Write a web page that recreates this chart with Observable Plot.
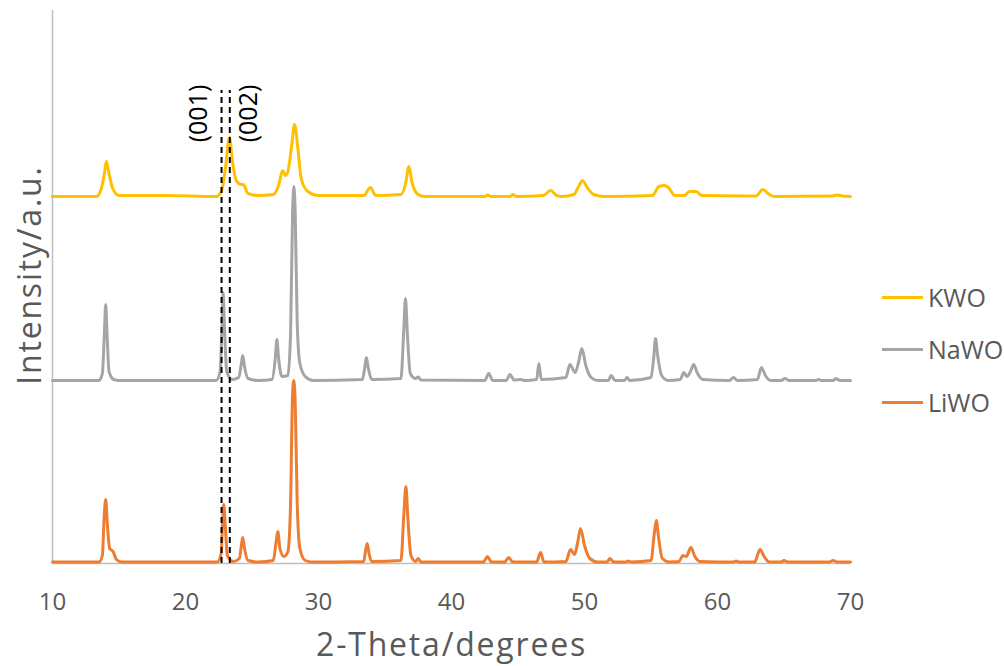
<!DOCTYPE html>
<html>
<head>
<meta charset="utf-8">
<script src="https://cdn.jsdelivr.net/npm/d3@7"></script>
<script src="https://cdn.jsdelivr.net/npm/@observablehq/plot@0.6"></script>
<style>
  html, body { margin: 0; padding: 0; background: #fff; }
  #wrap { position: relative; width: 1004px; height: 666px; overflow: hidden; font-family: "Open Sans", sans-serif; }
  .leg { position: absolute; left: 882px; display: flex; align-items: center; font-size: 25px; color: #595959; line-height: 1; }
  .leg .sw { width: 41px; height: 3px; margin-right: 5px; }
</style>
</head>
<body>
<div id="wrap"></div>
<script>
// 2-Theta (degrees) and displayed intensity (a.u., stacked with offsets as in the original)
const seriesNames = ["KWO", "NaWO", "LiWO"];
const seriesColors = ["#FFC000", "#A5A5A5", "#ED7D31"];

const KWO = [
  [10,367],[13.3,367],[13.65,374],[13.9,390],[14.05,402],[14.25,390],[14.5,376],[15,368],[18.5,368],
  [22.3,367],[22.7,372],[23.0,395],[23.3,426],[23.55,400],[23.85,382],[24.2,379],[24.35,379],[24.7,370],
  [25.5,368],[26.6,369],[27.0,378],[27.3,393],[27.5,388],[27.7,392],[28.0,420],[28.2,439],[28.45,415],
  [28.7,385],[29.2,372],[30,368],[33.4,368],[33.9,376],[34.3,368],[36.2,369],[36.55,380],[36.8,397],
  [37.05,380],[37.5,369],[38,367],[42.5,367],[42.7,368.5],[43,367],[44.4,367],[44.6,369],[44.9,367],
  [46.9,368],[47.45,373],[47.9,368],[48.3,367],[49.2,369],[49.6,378],[49.85,383],[50.2,376],[50.7,369],
  [51.5,367],[55.1,368],[55.6,377],[56.0,378],[56.3,376],[56.8,368],[57.5,368],[57.9,372],[58.4,372],
  [58.8,368],[62.9,367.5],[63.4,374],[63.9,369],[64.3,367],[68.6,367.5],[69,368.5],[69.4,367.5],[70,367]
];

const NaWO = [
  [10,183],[13.5,183],[13.75,190],[13.9,230],[14.0,259],[14.1,230],[14.25,192],[14.6,184],[15,183],
  [22.3,183],[22.6,192],[22.75,240],[22.83,271],[22.92,240],[23.1,192],[23.5,184],[24.0,186],[24.2,200],
  [24.3,208],[24.45,196],[24.7,185],[25.5,183],[26.5,184],[26.75,205],[26.87,224],[27.0,205],[27.25,187],
  [27.7,188],[27.9,230],[28.05,350],[28.15,377],[28.25,350],[28.4,240],[28.6,200],[29.0,187],[29.6,183],
  [33.3,184],[33.5,198],[33.6,206],[33.75,195],[34.0,184],[36.2,185],[36.4,230],[36.54,265],[36.68,230],
  [36.9,190],[37.3,185],[37.5,186.5],[37.7,183.5],[42.5,183],[42.8,190],[43.1,183],[44.1,183],[44.4,189],
  [44.7,183.5],[45.2,184],[45.5,183],[46.4,184],[46.57,200],[46.75,184],[48.6,186],[48.9,199],[49.3,191],
  [49.55,201],[49.8,215],[50.1,198],[50.5,186],[51,183],[51.8,183],[52.0,188],[52.3,183],[53.0,183],
  [53.2,186],[53.4,183],[55.0,186],[55.2,205],[55.34,225],[55.5,208],[55.8,188],[56.3,183],[57.2,184],
  [57.47,191],[57.7,187],[58.0,193],[58.2,199],[58.5,190],[58.9,184],[60.9,183],[61.2,186],[61.5,183],
  [63.0,184],[63.3,196],[63.6,188],[64.0,183],[64.8,183],[65.06,185],[65.4,183],[67.4,183],[67.6,184],
  [67.8,183],[68.7,183],[68.9,185],[69.2,183],[70,183]
];

const LiWO = [
  [10,1.5],[13.5,1.5],[13.75,8],[13.88,45],[14.0,64],[14.12,40],[14.3,15],[14.56,12],[14.8,4],[15.2,1.5],
  [22.4,1.5],[22.68,10],[22.8,45],[22.88,59],[22.98,40],[23.15,8],[23.6,2],[24.05,5],[24.2,18],[24.3,26],
  [24.45,14],[24.7,3],[25.5,1.5],[26.6,3],[26.8,20],[26.94,32],[27.1,15],[27.4,7],[27.7,12],[27.9,60],
  [28.05,170],[28.15,183],[28.25,160],[28.4,60],[28.6,15],[29.0,3],[29.5,1.5],[33.4,2],[33.55,14],
  [33.66,20],[33.8,10],[34.0,2],[36.2,3],[36.42,50],[36.57,77],[36.72,45],[36.95,8],[37.3,2],[37.5,5],
  [37.7,1.5],[42.4,1.5],[42.7,7],[43.0,1.5],[44.0,1.5],[44.3,6],[44.6,1.5],[46.4,1.5],[46.7,11],[46.95,1.5],
  [48.6,2],[48.95,14],[49.25,9],[49.5,22],[49.7,35],[50.0,18],[50.4,5],[51,1.5],[51.7,1.5],[51.9,5],
  [52.2,1.5],[53.1,1.5],[53.3,2.5],[53.5,1.5],[55.0,3],[55.25,30],[55.4,43],[55.55,28],[55.85,5],[56.4,1.5],
  [57.1,2],[57.4,8],[57.65,7],[58.0,16],[58.3,7],[58.7,2],[61.2,1.5],[61.4,2.5],[61.6,1.5],[62.8,1.5],
  [63.05,10],[63.2,14],[63.5,7],[63.9,1.5],[64.8,1.5],[65.0,3],[65.3,1.5],[68.4,1.5],[68.7,3],[69.0,1.5],[70,1.5]
];

const xTicks = [10, 20, 30, 40, 50, 60, 70];
const refLines = [22.71, 23.33];
const refLabels = ["(001)", "(002)"];
const refTop = 473;

const seriesData = [KWO, NaWO, LiWO];
const rows = [];
seriesData.forEach((arr, i) => arr.forEach(([t, v]) => rows.push({series: seriesNames[i], theta: t, intensity: v})));

const labelRows = refLabels.map((l, i) => ({label: l, x: refLines[i]}));

const chart = Plot.plot({
  width: 1004,
  height: 666,
  marginLeft: 52,
  marginRight: 154,
  marginTop: 10,
  marginBottom: 103,
  style: {fontFamily: "'Open Sans', sans-serif", fontSize: "24px", color: "#595959", background: "#fff"},
  x: {domain: [10, 70], ticks: xTicks, tickSize: 0, tickPadding: 29, label: null},
  y: {domain: [0, 553], axis: null},
  color: {domain: seriesNames, range: seriesColors},
  marks: [
    Plot.ruleX([10], {stroke: "#BFBFBF", strokeWidth: 1.5}),
    Plot.ruleY([0], {stroke: "#BFBFBF", strokeWidth: 1.5}),
    Plot.line(rows.filter(d => d.series === "KWO"), {x: "theta", y: "intensity", stroke: "series", strokeWidth: 3, curve: "monotone-x"}),
    Plot.line(rows.filter(d => d.series === "NaWO"), {x: "theta", y: "intensity", stroke: "series", strokeWidth: 3, curve: "monotone-x"}),
    Plot.line(rows.filter(d => d.series === "LiWO"), {x: "theta", y: "intensity", stroke: "series", strokeWidth: 3, curve: "monotone-x"}),
    Plot.ruleX(refLines, {y1: 0, y2: refTop, stroke: "#000", strokeWidth: 2, strokeDasharray: "6,4"}),
    Plot.text(labelRows.slice(0, 1), {x: "x", y: 450, text: "label", rotate: -90, dx: -23, fontSize: 25, fill: "#000"}),
    Plot.text(labelRows.slice(1), {x: "x", y: 450, text: "label", rotate: -90, dx: 19, fontSize: 25, fill: "#000"}),
    Plot.text(["2-Theta/degrees"], {frameAnchor: "bottom", dy: 92, fontSize: 32, fill: "#595959"}),
    Plot.text(["Intensity/a.u."], {frameAnchor: "left", textAnchor: "middle", rotate: -90, dx: -22, dy: -12, fontSize: 32, fill: "#595959"})
  ]
});
document.getElementById("wrap").appendChild(chart);
chart.querySelectorAll("text").forEach(t => {
  if (t.textContent === "2-Theta/degrees" || t.textContent === "Intensity/a.u.") t.setAttribute("letter-spacing", "1.8px");
});

const legendY = [297, 349, 402];
seriesNames.forEach((name, i) => {
  const item = document.createElement("div");
  item.className = "leg";
  item.style.top = (legendY[i] - 15) + "px";
  item.style.height = "30px";
  item.innerHTML = `<span class="sw" style="background:${seriesColors[i]}"></span><span>${name}</span>`;
  document.getElementById("wrap").appendChild(item);
});
</script>
</body>
</html>
